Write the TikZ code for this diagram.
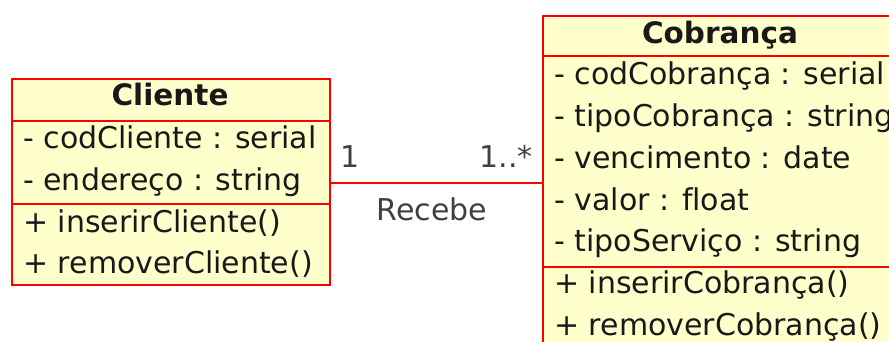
\documentclass[tikz,border=0pt]{standalone}
\usepackage{fontspec}
\setmainfont[Ligatures={NoCommon}]{DejaVu Sans}
\definecolor{umlfill}{RGB}{255,255,204}
\definecolor{umlline}{RGB}{255,0,0}
\definecolor{umltext}{RGB}{25,25,25}
\definecolor{lbltext}{RGB}{64,64,64}
\tikzset{
  classbox/.style={draw=umlline, fill=umlfill, line width=2pt, rectangle, inner sep=0pt, anchor=north west},
  sepline/.style={draw=umlline, line width=2pt},
  member/.style={anchor=base west, inner sep=0pt, text=umltext, font=\fontsize{30}{36}\selectfont},
  title/.style={anchor=base, inner sep=0pt, text=umltext, font=\fontsize{29.5}{35}\selectfont\bfseries},
  assoc/.style={draw=umlline, line width=2pt},
  lbl/.style={inner sep=0pt, text=lbltext, font=\fontsize{30}{36}\selectfont}
}
\begin{document}
\begin{tikzpicture}[x=1pt,y=-1pt]
\useasboundingbox (0,0) rectangle (889,341);
\clip (0,0) rectangle (889,341);
\fill[white] (0,0) rectangle (889,341);
% Cliente
\node[classbox, minimum width=318pt, minimum height=206pt] (cli) at (11,78) {};
\draw[sepline] (11,121) -- (329,121);
\draw[sepline] (11,204) -- (329,204);
\node[title] (cliT) at (170,105) {Cliente};
\node[member] (cliA1) at (23,148) {- codCliente : serial};
\node[member] (cliA2) at (23,190) {- endereço : string};
\node[member] (cliO1) at (23,232) {+ inserirCliente()};
\node[member] (cliO2) at (23,273) {+ removerCliente()};
% Cobranca
\node[classbox, minimum width=356pt, minimum height=336pt] (cob) at (542,15) {};
\draw[sepline] (542,56) -- (898,56);
\draw[sepline] (542,267) -- (898,267);
\node[title] (cobT) at (720,43) {Cobrança};
\node[member] (cobA1) at (554,84) {- codCobrança : serial};
\node[member] (cobA2) at (554,126) {- tipoCobrança : string};
\node[member] (cobA3) at (554,168) {- vencimento : date};
\node[member] (cobA4) at (554,210) {- valor : float};
\node[member] (cobA5) at (554,251) {- tipoServiço : string};
\node[member] (cobO1) at (554,293) {+ inserirCobrança()};
\node[member] (cobO2) at (554,335) {+ removerCobrança()};
% association
\coordinate (aL) at (329,183);
\draw[assoc] (aL) -- (aL -| cob.west);
\node[lbl, anchor=base west] (m1) at (340,167) {1};
\node[lbl, anchor=base east] (m2) at (533,167) {1..*};
\node[lbl, anchor=base] (rel) at (432,220) {Recebe};
\end{tikzpicture}
\end{document}
